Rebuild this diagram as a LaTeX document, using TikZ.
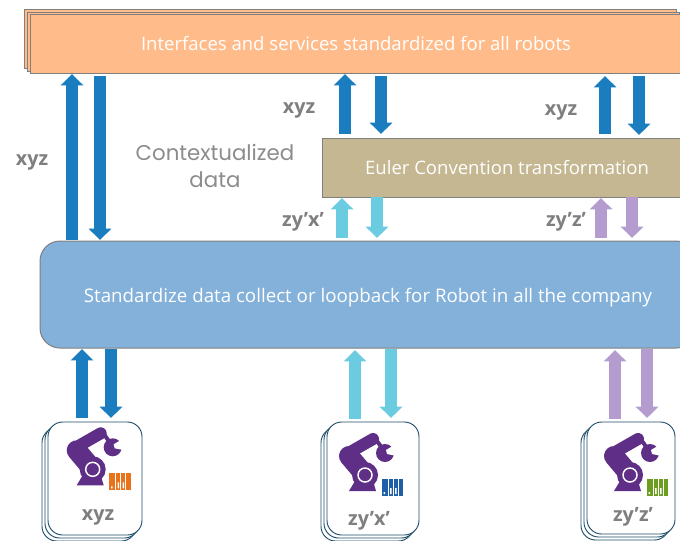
\documentclass[tikz,border=0pt]{standalone}
\usepackage{fontspec}
\setmainfont{Open Sans}
\newfontfamily\contextfont{Poppins}
\usetikzlibrary{arrows.meta}
\usetikzlibrary{positioning}
\definecolor{stackorange}{HTML}{FFBC8A}
\definecolor{stacktan}{HTML}{C4B791}
\definecolor{stackblue}{HTML}{83B1DA}
\definecolor{edgegray}{HTML}{7F7F7F}
\definecolor{textgray}{HTML}{7F7F7F}
\definecolor{flowblue}{HTML}{1A7DC0}
\definecolor{flowcyan}{HTML}{6BCBE0}
\definecolor{flowpurple}{HTML}{B49DCE}
\definecolor{robotpurple}{HTML}{5F2E86}
\definecolor{cardedge}{HTML}{1F4E6B}
\definecolor{plcorange}{HTML}{E8731B}
\definecolor{plcblue}{HTML}{1F5FA8}
\definecolor{plcgreen}{HTML}{6B9E1F}

\begin{document}
\begin{tikzpicture}[
  x=0.75pt, y=-0.75pt,
  stackbox/.style = {draw=edgegray,fill=stackorange,line width=0.75pt,minimum width=652*0.75pt,minimum height=59*0.75pt,inner sep=0pt},
  layerbox/.style = {draw=edgegray,line width=0.75pt,inner sep=0pt,text=white,font=\fontsize{13.9}{16}\selectfont},
  flow/.style = {line width=8.6pt,-{Triangle[width=16.5pt,length=8.5pt]}},
  card/.style = {draw=cardedge,fill=white,line width=0.7pt,rounded corners=11pt},
  tag/.style = {text=textgray,font=\bfseries\fontsize{14.8}{16}\selectfont},
  pics/robot/.style = {code={
    \draw[robotpurple,line width=9pt,line cap=round] (-13,-24) -- (8,-36);
    \fill[robotpurple] (-10,6) -- (-16,16) -- (11,16) -- (8,6) -- cycle;
    \draw[robotpurple,line width=15pt,line cap=round] (0,0) -- (-16,-19);
    \fill[robotpurple] (0,0) circle (13);
    \draw[white,line width=1.1pt] (0,0) circle (7);
    \draw[robotpurple,line width=3pt] (12,-34) -- (17,-27);
    \fill[robotpurple] (20,-22) circle (9);
    \fill[white] (21,-25) -- (31,-31) -- (32,-19) -- (22,-21) -- cycle;
    \fill[#1] (16.5,4) rectangle (38,21);
    \draw[white,line width=0.6pt] (23,4) -- (23,21) (28,4) -- (28,21) (33,4) -- (33,21);
    \fill[white] (18.5,17) rectangle (20,19) (25,13) rectangle (26.5,19) (30,13) rectangle (31.5,19);
  }}
  ]
  \useasboundingbox (0,0) rectangle (680,540);
  \clip (0,0) rectangle (680,540);

  % top stack
  \node[stackbox] (top3) at (350,39) {};
  \node[stackbox] (top2) at (353,41.5) {};
  \node[layerbox,fill=stackorange,minimum width=652*0.75pt,minimum height=59*0.75pt] (top) at (356,44) {\raisebox{0.7pt}{Interfaces and services standardized for all robots}};

  \node[layerbox,fill=stacktan,minimum width=370*0.75pt,minimum height=59*0.75pt] (euler) at (507,167.5) {Euler Convention transformation};
  \node[layerbox,fill=stackblue,rounded corners=15pt,minimum width=656*0.75pt,minimum height=107*0.75pt,text height=12.5pt,text depth=0.5pt,font=\fontsize{14.05}{16}\selectfont] (collect) at (368,294.5) {Standardize data collect or loopback for Robot in all the company};

  \node[text=textgray!90,align=center,font=\contextfont\fontsize{16}{20}\selectfont] (context) at (215,166) {Contextualized\\data};

  % arrow ends
  \coordinate (@1) at (72,240);
  \coordinate (@2) at (72,74);
  \coordinate (@3) at (100,76);
  \coordinate (@4) at (100,240);
  \coordinate (@5) at (345,134);
  \coordinate (@6) at (345,74);
  \coordinate (@7) at (381,76);
  \coordinate (@8) at (381,134);
  \coordinate (@9) at (605,134);
  \coordinate (@10) at (605,76);
  \coordinate (@11) at (639,76);
  \coordinate (@12) at (639,135);
  \coordinate (@13) at (342,238);
  \coordinate (@14) at (342,198);
  \coordinate (@15) at (377,197);
  \coordinate (@16) at (377,238);
  \coordinate (@17) at (601,238);
  \coordinate (@18) at (601,198);
  \coordinate (@19) at (632,197);
  \coordinate (@20) at (632,238);
  \coordinate (@21) at (82,418);
  \coordinate (@22) at (82,349);
  \coordinate (@23) at (111,349);
  \coordinate (@24) at (111,418);
  \coordinate (@25) at (355,419);
  \coordinate (@26) at (355,350);
  \coordinate (@27) at (391,349);
  \coordinate (@28) at (391,418);
  \coordinate (@29) at (615,419);
  \coordinate (@30) at (615,350);
  \coordinate (@31) at (647,349);
  \coordinate (@32) at (647,418);

  \draw[flow,flowblue] (@1) -- (@2);
  \draw[flow,flowblue] (@3) -- (@4);
  \draw[flow,flowblue] (@5) -- (@6);
  \draw[flow,flowblue] (@7) -- (@8);
  \draw[flow,flowblue] (@9) -- (@10);
  \draw[flow,flowblue] (@11) -- (@12);
  \draw[flow,flowcyan] (@13) -- (@14);
  \draw[flow,flowcyan] (@15) -- (@16);
  \draw[flow,flowpurple] (@17) -- (@18);
  \draw[flow,flowpurple] (@19) -- (@20);
  \draw[flow,flowblue] (@21) -- (@22);
  \draw[flow,flowblue] (@23) -- (@24);
  \draw[flow,flowcyan] (@25) -- (@26);
  \draw[flow,flowcyan] (@27) -- (@28);
  \draw[flow,flowpurple] (@29) -- (@30);
  \draw[flow,flowpurple] (@31) -- (@32);

  % labels
  \node[tag] (tag1) at (32,162) {xyz};
  \node[tag] (tag2) at (299,110) {xyz};
  \node[tag] (tag3) at (561,112) {xyz};
  \node[tag] (tag4) at (303,222) {zy’x’};
  \node[tag] (tag5) at (566,222) {zy’z’};

  % robot cards
  \foreach \d in {6,3,0} {
    \draw[card] (48-\d,422+\d) rectangle (142-\d,535+\d);
    \draw[card] (327-\d,422+\d) rectangle (419-\d,535+\d);
    \draw[card] (587-\d,422+\d) rectangle (675-\d,534+\d);
  }
  \pic at (92.7,469.3) {robot=plcorange};
  \pic at (365,475) {robot=plcblue};
  \pic at (630,475) {robot=plcgreen};
  \node[tag] (card1) at (98,517) {xyz};
  \node[tag] (card2) at (369,521) {zy’x’};
  \node[tag] (card3) at (633,517) {zy’z’};
\end{tikzpicture}
\end{document}
